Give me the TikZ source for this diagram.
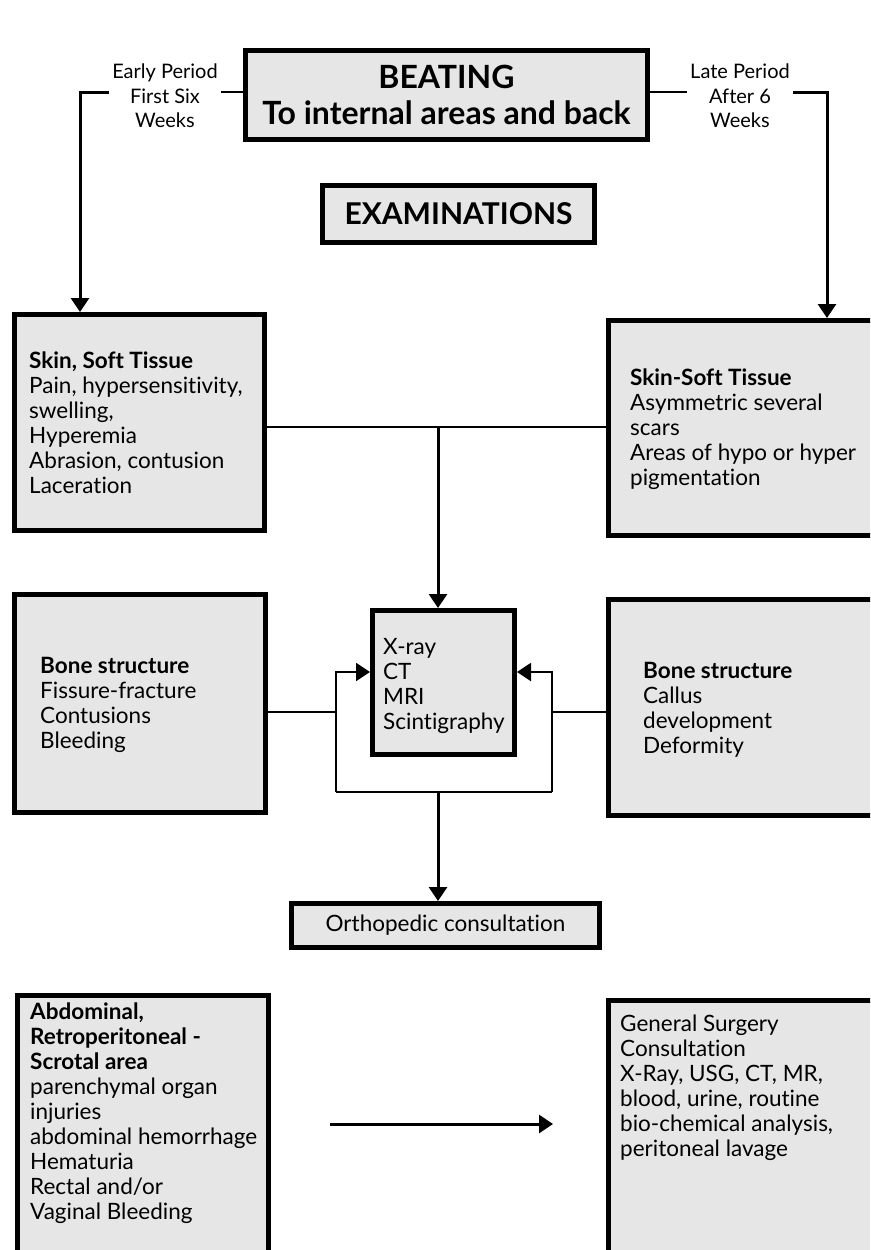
\documentclass[tikz,border=0pt]{standalone}
\usepackage{fontspec}
\setmainfont{Lato}[Ligatures=NoCommon]
\usetikzlibrary{arrows.meta,calc}
\definecolor{boxgray}{RGB}{230,230,230}

\begin{document}
\begin{tikzpicture}[x=1pt,y=-1pt,
  frame/.style={draw=black, fill=boxgray, line width=5pt, rectangle, inner sep=0pt},
  body/.style={font=\fontsize{22.5}{25}\selectfont, align=left, inner sep=0pt},
  head/.style={font=\bfseries\fontsize{32}{36}\selectfont, align=center},
  lbl/.style={font=\fontsize{20}{24.5}\selectfont, align=center, inner xsep=3pt, inner ysep=0pt},
  conn/.style={line width=2.6pt},
  link/.style={line width=2pt},
  tip/.style={-{Triangle[length=14pt,width=18pt]}},
  arr/.style={line width=3pt, tip}]
\useasboundingbox (0,0) rectangle (870,1250);
\clip (0,0) rectangle (870,1250);

% title boxes
\node[frame, head, minimum width=402pt, minimum height=89pt] (beat) at (446.5,95)
  {BEATING\\To internal areas and back};
\node[frame, head, font=\bfseries\fontsize{30}{36}\selectfont, minimum width=272pt, minimum height=57pt] (exam) at (458.5,214)
  {EXAMINATIONS};

% period labels
\node[lbl] (early) at (165,96) {Early Period\\First Six\\Weeks};
\node[lbl] (late) at (740,96) {Late Period\\After 6\\Weeks};

% skin boxes
\node[frame, minimum width=250pt, minimum height=216pt] (skinL) at (139.5,422.5) {};
\node[body, anchor=west] (skinLtxt) at (29,423)
  {\textbf{Skin, Soft Tissue}\\Pain, hypersensitivity,\\swelling,\\Hyperemia\\Abrasion, contusion\\Laceration};
\node[frame, minimum width=275pt, minimum height=215pt] (skinR) at (746,428) {};
\node[body, anchor=west] (skinRtxt) at (630,429)
  {\textbf{Skin-Soft Tissue}\\Asymmetric several\\scars\\Areas of hypo or hyper\\pigmentation};

% imaging box
\node[frame, minimum width=142pt, minimum height=144pt] (xray) at (443.5,682.5) {};
\node[body, anchor=west] (xraytxt) at (383,686) {X-ray\\CT\\MRI\\Scintigraphy};

% bone boxes
\node[frame, minimum width=251pt, minimum height=218pt] (boneL) at (140,703.5) {};
\node[body, anchor=west] (boneLtxt) at (40,705)
  {\textbf{Bone structure}\\Fissure-fracture\\Contusions\\Bleeding};
\node[frame, minimum width=275pt, minimum height=216pt] (boneR) at (746,707.5) {};
\node[body, anchor=west] (boneRtxt) at (643,710)
  {\textbf{Bone structure}\\Callus\\development\\Deformity};

% orthopedic consultation
\node[frame, body, align=center, minimum width=308pt, minimum height=44pt] (ortho) at (445.5,925.5)
  {Orthopedic consultation};

% bottom boxes
\node[frame, anchor=north west, minimum width=251pt, minimum height=280pt] (abd) at (14.5,992.5) {};
\node[body, anchor=north west] (abdtxt) at (30,1003)
  {\textbf{Abdominal,}\\\textbf{Retroperitoneal -}\\\textbf{Scrotal area}\\parenchymal organ\\injuries\\abdominal hemorrhage\\Hematuria\\Rectal and/or\\Vaginal Bleeding};
\node[frame, anchor=north west, minimum width=275pt, minimum height=280pt] (gen) at (605.5,997.5) {};
\node[body, anchor=north west] (gentxt) at (620,1015)
  {General Surgery\\Consultation\\X-Ray, USG, CT, MR,\\blood, urine, routine\\bio-chemical analysis,\\peritoneal lavage};

% connector junctions
\coordinate (jTop) at (438,427);
\coordinate (bl) at (336,792);
\coordinate (br) at (552,792);
\coordinate (jBot) at (438,792);
\coordinate (aS) at (330,1124);
\coordinate (aE) at (553,1124);

% period branches
\draw[conn] (beat.west |- 0,92) -- (early.east |- 0,92);
\draw[arr] (early.west |- 0,92) -| (skinL.north -| 80,0);
\draw[conn] (beat.east |- 0,92) -- (late.west |- 0,92);
\draw[arr] (late.east |- 0,92) -| (skinR.north -| 827,0);

% skin findings to imaging
\draw[link] (skinL.east |- jTop) -- (skinR.west |- jTop);
\draw[arr] (jTop) -- (xray.north -| jTop);

% bone findings loop
\draw[link] (boneL.east |- 0,712) -- (bl |- 0,712);
\draw[link] (boneR.west |- 0,712) -- (br |- 0,712);
\draw[link, tip] (bl) |- (xray.west |- 0,672);
\draw[link, tip] (br) |- (xray.east |- 0,672);
\draw[link] (bl) -- (br);
\draw[arr] (jBot) -- (ortho.north -| jBot);

% abdominal to general surgery
\draw[arr] (aS) -- (aE);
\end{tikzpicture}
\end{document}
